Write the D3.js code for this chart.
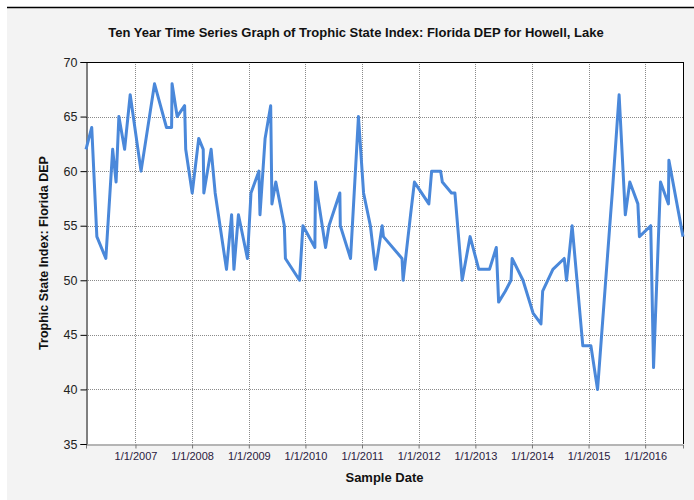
<!DOCTYPE html>
<html>
<head>
<meta charset="utf-8">
<script src="https://cdn.jsdelivr.net/npm/d3@7"></script>
<style>
  html, body { margin: 0; padding: 0; background: #ffffff; }
  svg { display: block; }
  text { font-family: Arial, "Liberation Sans", sans-serif; }
</style>
</head>
<body>
<svg id="chart" width="694" height="500"></svg>
<script>
const chartTitle = "Ten Year Time Series Graph of Trophic State Index: Florida DEP for Howell, Lake";
const xTitle = "Sample Date";
const yTitle = "Trophic State Index: Florida DEP";

const sampleDates = [
  "2006-02-16","2006-03-25","2006-04-27","2006-06-24","2006-08-07","2006-08-29","2006-09-16","2006-10-23","2006-11-28",
  "2007-02-06","2007-05-04","2007-07-20","2007-08-22","2007-08-25","2007-09-27","2007-11-14","2007-11-21",
  "2008-01-02","2008-02-13","2008-03-13","2008-03-17","2008-05-03","2008-05-29","2008-08-10","2008-09-12","2008-09-27","2008-10-26","2008-12-23",
  "2009-01-15","2009-03-07","2009-03-14","2009-04-16","2009-05-22","2009-05-30","2009-06-24","2009-08-18","2009-08-25","2009-11-24","2009-12-16",
  "2010-03-03","2010-03-07","2010-05-11","2010-06-02","2010-08-11","2010-08-14","2010-10-19","2010-12-09",
  "2011-01-11","2011-02-24","2011-03-29","2011-05-11","2011-05-19","2011-09-16","2011-09-23","2011-11-10","2011-12-05",
  "2012-03-07","2012-03-25","2012-05-22","2012-06-02","2012-07-31","2012-08-22","2012-10-08","2012-11-28",
  "2013-01-23","2013-04-02","2013-05-16","2013-05-31","2013-07-13","2013-08-19","2013-08-26","2013-11-04",
  "2014-01-08","2014-02-28","2014-03-11","2014-05-16","2014-07-28","2014-08-12","2014-09-17","2014-11-25",
  "2015-01-16","2015-02-28","2015-05-23","2015-06-03","2015-07-17","2015-08-26","2015-09-24","2015-11-15","2015-11-25",
  "2016-02-06","2016-02-24","2016-04-09","2016-05-30","2016-06-02","2016-09-01"
];
const tsiValues = [
  62,64,54,52,62,59,65,62,67,
  60,68,64,64,68,65,66,62,
  58,63,62,58,62,58,51,56,51,56,52,
  58,60,56,63,66,57,59,55,52,50,55,
  53,59,53,55,58,55,52,65,
  58,55,51,55,54,52,50,56,59,
  57,60,60,59,58,58,50,54,
  51,51,53,48,49,50,52,50,
  47,46,49,51,52,50,55,44,
  44,40,56,58,67,56,59,57,54,
  55,42,59,57,61,54
];
const yTicks = [35,40,45,50,55,60,65,70];
const xTickYears = [2007,2008,2009,2010,2011,2012,2013,2014,2015,2016];

const parse = d3.timeParse("%Y-%m-%d");
const data = sampleDates.map((d, i) => ({date: parse(d), value: tsiValues[i]}));

const svg = d3.select("#chart");
const pLeft = 86, pRight = 683, pTop = 62, pBottom = 444;

// backgrounds
svg.append("rect").attr("x", 7).attr("y", 8).attr("width", 687).attr("height", 492).attr("fill", "#f3f3f3");
svg.append("line").attr("x1", 7).attr("x2", 694).attr("y1", 7.5).attr("y2", 7.5).attr("stroke", "#000").attr("stroke-width", 1.5);
svg.append("rect").attr("x", pLeft).attr("y", pTop).attr("width", pRight - pLeft).attr("height", pBottom - pTop).attr("fill", "#ffffff");

const x = d3.scaleTime().domain(d3.extent(data, d => d.date)).range([pLeft, pRight]);
const y = d3.scaleLinear().domain([35, 70]).range([pBottom, pTop]);

const xTickDates = xTickYears.map(yr => new Date(yr, 0, 1));

// gridlines
const grid = svg.append("g").attr("stroke", "#8a8a8a").attr("stroke-width", 1).attr("stroke-dasharray", "1,1");
grid.selectAll(".hg").data(yTicks.filter(v => v > 35 && v < 70)).enter().append("line")
  .attr("x1", pLeft).attr("x2", pRight)
  .attr("y1", d => Math.round(y(d)) + 0.5).attr("y2", d => Math.round(y(d)) + 0.5);
grid.selectAll(".vg").data(xTickDates).enter().append("line")
  .attr("y1", pTop).attr("y2", pBottom)
  .attr("x1", d => Math.round(x(d)) + 0.5).attr("x2", d => Math.round(x(d)) + 0.5);

// frame
svg.append("line").attr("x1", pLeft).attr("x2", pRight).attr("y1", pTop + 0.5).attr("y2", pTop + 0.5).attr("stroke", "#000");
svg.append("line").attr("x1", pRight + 0.5).attr("x2", pRight + 0.5).attr("y1", pTop).attr("y2", pBottom).attr("stroke", "#000");

// axes
const yAxis = d3.axisLeft(y).tickValues(yTicks).tickSize(6).tickPadding(3).tickFormat(d3.format("d"));
const gy = svg.append("g").attr("transform", `translate(${pLeft + 0.5},0)`).call(yAxis);
gy.select(".domain").attr("stroke", "#000");
gy.selectAll(".tick line").attr("stroke", "#000");
gy.selectAll(".tick text").attr("font-size", 12.5).attr("fill", "#222");

const xAxis = d3.axisBottom(x).tickValues(xTickDates).tickSize(4).tickPadding(4).tickFormat(d3.timeFormat("1/1/%Y"));
const gx = svg.append("g").attr("transform", `translate(0,${pBottom + 0.5})`).call(xAxis);
gx.select(".domain").attr("stroke", "#777");
gx.selectAll(".tick line").attr("stroke", "#777");
gx.selectAll(".tick text").attr("font-size", 11).attr("fill", "#2a2040");

// line
const line = d3.line().x(d => x(d.date)).y(d => y(d.value));
svg.append("path").datum(data).attr("d", line)
  .attr("fill", "none").attr("stroke", "#4a88da").attr("stroke-width", 3).attr("stroke-linejoin", "round");

// titles
svg.append("text").attr("x", 356).attr("y", 37).attr("text-anchor", "middle")
  .attr("font-size", 13).attr("font-weight", "bold").attr("fill", "#111").text(chartTitle);
svg.append("text").attr("x", (pLeft + pRight) / 2).attr("y", 482).attr("text-anchor", "middle")
  .attr("font-size", 13).attr("font-weight", "bold").attr("fill", "#111").text(xTitle);
svg.append("text").attr("transform", `translate(48,${(pTop + pBottom) / 2}) rotate(-90)`).attr("text-anchor", "middle")
  .attr("font-size", 12.5).attr("font-weight", "bold").attr("fill", "#111").text(yTitle);
</script>
</body>
</html>
